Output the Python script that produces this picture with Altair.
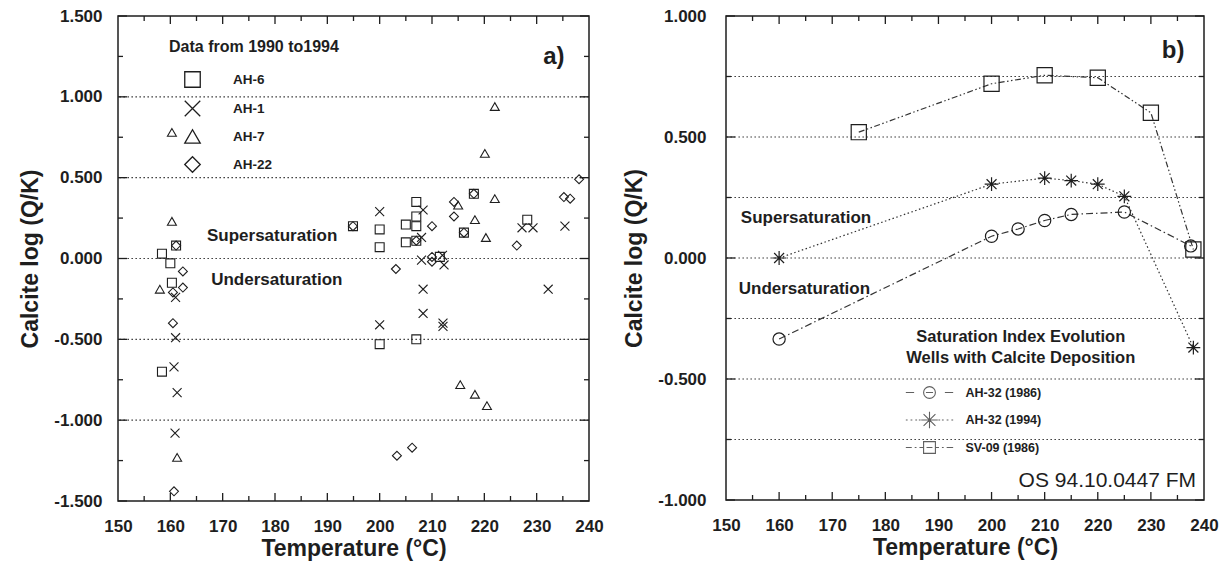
import altair as alt
import pandas as pd

FONT = "Liberation Sans"
INK = "#1e1e1e"

# ---------------- Panel a data (1990-1994) ----------------
ah6_temp = [158.4, 160.0, 160.3, 161.1, 158.4, 194.9, 200.0, 200.0, 200.0, 205.0, 205.0,
            207.0, 207.0, 207.0, 207.0, 207.0, 211.5, 216.1, 218.0, 228.2]
ah6_si = [0.03, -0.03, -0.15, 0.08, -0.70, 0.20, 0.18, 0.07, -0.53, 0.21, 0.10,
          0.35, 0.26, 0.20, 0.11, -0.50, 0.01, 0.16, 0.40, 0.24]

ah1_temp = [161.0, 161.0, 160.7, 161.3, 160.9, 200.0, 200.0, 208.3, 208.0, 208.0, 208.3,
            208.3, 212.0, 212.3, 212.1, 212.1, 227.2, 229.3, 235.4, 232.2]
ah1_si = [-0.24, -0.49, -0.67, -0.83, -1.08, 0.29, -0.41, 0.30, 0.13, -0.01, -0.19,
          -0.34, 0.02, -0.04, -0.40, -0.42, 0.19, 0.19, 0.20, -0.19]

ah7_temp = [160.3, 160.3, 158.0, 161.3, 215.0, 218.2, 220.3, 220.1, 222.0, 222.0, 215.4, 218.2, 220.5]
ah7_si = [0.78, 0.23, -0.19, -1.23, 0.33, 0.24, 0.13, 0.65, 0.94, 0.37, -0.78, -0.84, -0.91]

ah22_temp = [161.1, 162.4, 162.4, 160.5, 160.5, 160.7, 194.9, 203.1, 210.0, 210.0, 210.0,
             214.2, 214.2, 216.1, 218.0, 207.0, 226.2, 235.2, 236.4, 238.1, 203.3, 206.2]
ah22_si = [0.08, -0.08, -0.18, -0.21, -0.40, -1.44, 0.20, -0.065, 0.20, 0.01, -0.02,
           0.35, 0.26, 0.16, 0.40, 0.11, 0.08, 0.38, 0.37, 0.49, -1.22, -1.17]

wells_a = ["AH-6", "AH-1", "AH-7", "AH-22"]

# ---------------- Panel b data ----------------
ah32_86_temp = [160, 200, 205, 210, 215, 225, 237.5]
ah32_86_si = [-0.335, 0.09, 0.12, 0.155, 0.18, 0.19, 0.05]
ah32_94_temp = [160, 200, 210, 215, 220, 225, 238]
ah32_94_si = [0.0, 0.305, 0.33, 0.32, 0.305, 0.255, -0.37]
sv09_temp = [175, 200, 210, 220, 230, 238]
sv09_si = [0.52, 0.72, 0.755, 0.745, 0.60, 0.035]

series_b = ["AH-32 (1986)", "AH-32 (1994)", "SV-09 (1986)"]
legend_b_title = ["Saturation Index Evolution", "Wells with Calcite Deposition"]

# ---------------- axes / ticks ----------------
x_labels = [150, 160, 170, 180, 190, 200, 210, 220, 230, 240]
x_major = [160, 170, 180, 190, 200, 210, 220, 230]
x_minor = [155, 165, 175, 185, 195, 205, 215, 225, 235]
ya_labels = [-1.5, -1.0, -0.5, 0.0, 0.5, 1.0, 1.5]
ya_minor = [-1.25, -0.75, -0.25, 0.25, 0.75, 1.25]
ya_grid = [-1.0, -0.5, 0.0, 0.5, 1.0]
yb_labels = [-1.0, -0.5, 0.0, 0.5, 1.0]
yb_minor = [-0.75, -0.25, 0.25, 0.75]
yb_grid = [-0.75, -0.5, -0.25, 0.0, 0.25, 0.5, 0.75]

X_PATH = "M-1,-1L1,1M-1,1L1,-1"
AST_PATH = "M-1,0L1,0M0,-1L0,1M-0.72,-0.72L0.72,0.72M-0.72,0.72L0.72,-0.72"
LEG_CIRC = "M-4,0L-2.6,0M2.6,0L4,0M-1,0A1,1,0,1,1,1,0A1,1,0,1,1,-1,0M-0.6,0L0.6,0"
LEG_AST = ("M-4,0L-3.7,0M-3.2,0L-2.9,0M-2.4,0L-2.1,0M-1.8,0L-1.5,0"
           "M1.5,0L1.8,0M2.1,0L2.4,0M2.9,0L3.2,0M3.7,0L4,0"
           "M-1.4,0L1.4,0M0,-1.4L0,1.4M-1,-1L1,1M-1,1L1,-1")
LEG_SQ = ("M-4,0L-3,0M-2.5,0L-2.2,0M-1.7,0L-1,0M-1,-1L1,-1L1,1L-1,1Z"
          "M-0.5,0L0.5,0M1,0L1.6,0M2.1,0L2.4,0M2.9,0L4,0")

WA, HA = 471, 485
WB, HB = 478, 484

LABEL_EXPR = "(datum.value < 0 ? '-' : '') + format(abs(datum.value), '.3f')"


def x_axis():
    return alt.Axis(values=x_labels, format="d", title="Temperature (°C)", grid=False, ticks=False,
                    domain=False, labelFont=FONT, labelFontSize=17, labelFontWeight="bold",
                    labelColor=INK, labelPadding=17, labelFlush=False, labelOverlap=False,
                    titleFont=FONT, titleFontSize=23, titleFontWeight="bold", titleColor=INK,
                    titlePadding=3)


def y_axis(vals, pad):
    return alt.Axis(values=vals, labelExpr=LABEL_EXPR, title="Calcite log (Q/K)", grid=False,
                    ticks=False, domain=False, labelFont=FONT, labelFontSize=17,
                    labelFontWeight="bold", labelColor=INK, labelPadding=pad, labelFlush=False,
                    labelOverlap=False, titleFont=FONT, titleFontSize=23, titleFontWeight="bold",
                    titleColor=INK, titlePadding=11)


def X(xs):
    return alt.X("T:Q", scale=xs, axis=x_axis(), title="Temperature (°C)")


def make_Y(pad):
    def Y(ys, vals):
        return alt.Y("V:Q", scale=ys, axis=y_axis(vals, pad), title="Calcite log (Q/K)")
    return Y


def frame_layers(xs, ys, Y, W, H, ymaj, ymin, grid):
    layers = []
    layers.append(alt.Chart(pd.DataFrame({"V": grid})).mark_rule(
        color="#444", strokeWidth=1.1, strokeDash=[1.6, 2.4]).encode(y=Y(ys, ymaj)))
    for vals, L in [(x_major, 8), (x_minor, 5)]:
        base = alt.Chart(pd.DataFrame({"T": vals})).mark_rule(color=INK, strokeWidth=1.3)
        layers.append(base.encode(x=X(xs), y=alt.value(H), y2=alt.value(H - L)))
        layers.append(base.encode(x=X(xs), y=alt.value(0), y2=alt.value(L)))
    for vals, L in [(ymaj, 9), (ymin, 5)]:
        base = alt.Chart(pd.DataFrame({"V": vals})).mark_rule(color=INK, strokeWidth=1.3)
        layers.append(base.encode(y=Y(ys, ymaj), x=alt.value(0), x2=alt.value(L)))
        layers.append(base.encode(y=Y(ys, ymaj), x=alt.value(W), x2=alt.value(W - L)))
    return layers


def text_layer(xs, ys, Y, ymaj, label, t, v, size, weight="bold", align="left"):
    return alt.Chart(pd.DataFrame({"T": [t], "V": [v], "label": [label]})).mark_text(
        font=FONT, fontSize=size, fontWeight=weight, align=align, baseline="middle", color=INK
    ).encode(x=X(xs), y=Y(ys, ymaj), text="label:N")


# ---------------- Panel a ----------------
Ya = make_Y(16)
xs_a = alt.Scale(domain=[150, 240], nice=False, zero=False)
ys_a = alt.Scale(domain=[-1.5, 1.5], nice=False, zero=False)

rows = []
for name, ts, vs in [("AH-6", ah6_temp, ah6_si), ("AH-1", ah1_temp, ah1_si),
                     ("AH-7", ah7_temp, ah7_si), ("AH-22", ah22_temp, ah22_si)]:
    for t, v in zip(ts, vs):
        rows.append({"well": name, "T": t, "V": v})
df_a = pd.DataFrame(rows)

pts_a = alt.Chart(df_a).mark_point(filled=False, color=INK, strokeWidth=1.1, size=80, opacity=1).encode(
    x=X(xs_a),
    y=Ya(ys_a, ya_labels),
    shape=alt.Shape("well:N", scale=alt.Scale(domain=wells_a,
                                              range=["square", X_PATH, "triangle-up", "diamond"]),
                    legend=alt.Legend(title="Data from 1990 to1994", orient="none", legendX=51,
                                      legendY=23, padding=0, titleFont=FONT, titleFontSize=16,
                                      titleFontWeight="bold", titleColor=INK, titlePadding=16,
                                      labelFont=FONT, labelFontSize=13.5, labelFontWeight="bold",
                                      labelColor=INK, labelOffset=32, symbolSize=240,
                                      symbolStrokeWidth=1.3, symbolStrokeColor=INK,
                                      symbolOffset=15, rowPadding=8, titleLimit=400)),
)

panel_a = alt.layer(
    *frame_layers(xs_a, ys_a, Ya, WA, HA, ya_labels, ya_minor, ya_grid),
    pts_a,
    text_layer(xs_a, ys_a, Ya, ya_labels, "Supersaturation", 167.0, 0.139, 17),
    text_layer(xs_a, ys_a, Ya, ya_labels, "Undersaturation", 167.8, -0.133, 17),
    text_layer(xs_a, ys_a, Ya, ya_labels, "a)", 233.3, 1.246, 24, align="center"),
).properties(width=WA, height=HA)

# ---------------- Panel b ----------------
Yb = make_Y(20)
xs_b = alt.Scale(domain=[150, 240], nice=False, zero=False)
ys_b = alt.Scale(domain=[-1.0, 1.0], nice=False, zero=False)

rows = []
for name, ts, vs in [(series_b[0], ah32_86_temp, ah32_86_si),
                     (series_b[1], ah32_94_temp, ah32_94_si),
                     (series_b[2], sv09_temp, sv09_si)]:
    for t, v in zip(ts, vs):
        rows.append({"series": name, "T": t, "V": v})
df_b = pd.DataFrame(rows)

dashes = {series_b[0]: [7, 3, 1.5, 3], series_b[1]: [1.5, 2.5], series_b[2]: [6, 2.5, 1.5, 2.5, 1.5, 2.5]}
line_layers = []
for s in series_b:
    line_layers.append(alt.Chart(df_b[df_b["series"] == s]).mark_line(
        color="#333", strokeWidth=1.2, strokeDash=dashes[s]).encode(
        x=X(xs_b), y=Yb(ys_b, yb_labels)))

pts_b = alt.Chart(df_b).mark_point(filled=False, color=INK, strokeWidth=1.2, opacity=1).encode(
    x=X(xs_b),
    y=Yb(ys_b, yb_labels),
    shape=alt.Shape("series:N", scale=alt.Scale(domain=series_b, range=["circle", AST_PATH, "square"]),
                    legend=None),
    size=alt.Size("series:N", scale=alt.Scale(domain=series_b, range=[150, 230, 140]), legend=None),
)

legend_b = alt.Chart(pd.DataFrame({"entry": series_b})).mark_point(
    filled=False, color=INK, strokeWidth=1.1).encode(
    shape=alt.Shape("entry:N", scale=alt.Scale(domain=series_b, range=[LEG_CIRC, LEG_AST, LEG_SQ]),
                    legend=alt.Legend(title=None, orient="none", legendX=197, legendY=370, padding=0,
                                      labelFont=FONT, labelFontSize=12.5, labelFontWeight="bold",
                                      labelColor=INK, labelOffset=29.5, symbolSize=140,
                                      symbolStrokeWidth=1.1, symbolStrokeColor=INK,
                                      symbolOffset=0, rowPadding=8.5)),
).transform_filter("false")

panel_b = alt.layer(
    *frame_layers(xs_b, ys_b, Yb, WB, HB, yb_labels, yb_minor, yb_grid),
    *line_layers,
    pts_b,
    legend_b,
    text_layer(xs_b, ys_b, Yb, yb_labels, "Supersaturation", 152.8, 0.165, 17),
    text_layer(xs_b, ys_b, Yb, yb_labels, "Undersaturation", 152.4, -0.128, 17),
    text_layer(xs_b, ys_b, Yb, yb_labels, legend_b_title[0], 205.5, -0.326, 16.5, align="center"),
    text_layer(xs_b, ys_b, Yb, yb_labels, legend_b_title[1], 205.5, -0.413, 16.5, align="center"),
    text_layer(xs_b, ys_b, Yb, yb_labels, "b)", 234.2, 0.855, 24, align="center"),
    text_layer(xs_b, ys_b, Yb, yb_labels, "OS 94.10.0447 FM", 238.5, -0.921, 21, weight="normal", align="right"),
).resolve_scale(shape="independent").properties(width=WB, height=HB)

chart = alt.hconcat(panel_a, panel_b, spacing=19).resolve_scale(
    x="independent", y="independent", shape="independent", size="independent"
).properties(
    padding={"left": 19, "top": 6, "right": 5, "bottom": 5},
    background="#ffffff",
).configure_view(stroke=INK, strokeWidth=1.5)

chart.save("out.html", embed_options={"renderer": "svg", "actions": False})
